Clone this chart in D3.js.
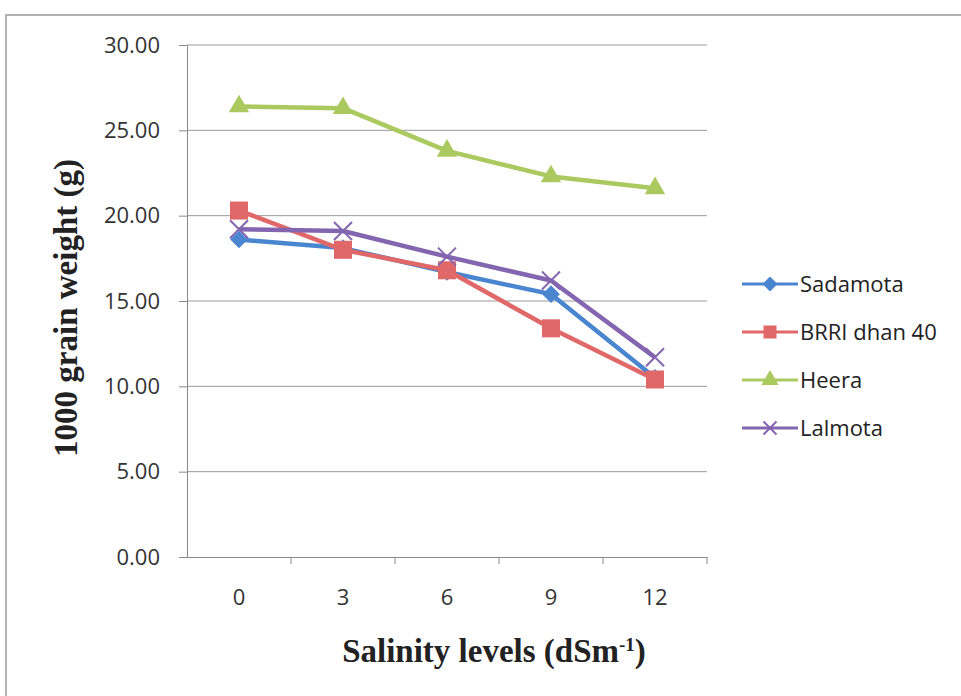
<!DOCTYPE html>
<html>
<head>
<meta charset="utf-8">
<script src="https://cdn.jsdelivr.net/npm/d3@7"></script>
<style>
  body { margin: 0; background: #fff; }
  .tick text { font-family: "Open Sans", sans-serif; font-size: 22px; fill: #333; }
  .axis-title { font-family: "Liberation Serif", serif; font-weight: bold; font-size: 33px; fill: #222; }
  .legend text { font-family: "Open Sans", sans-serif; font-size: 22px; fill: #222; }
</style>
</head>
<body>
<div id="chart"></div>
<script>
const levels = ['0', '3', '6', '9', '12'];
const yTicks = [0, 5, 10, 15, 20, 25, 30];

const sadamota = [18.6, 18.1, 16.7, 15.4, 10.5];
const brri = [20.3, 18.0, 16.8, 13.4, 10.4];
const heera = [26.4, 26.3, 23.8, 22.3, 21.6];
const lalmota = [19.2, 19.1, 17.6, 16.2, 11.7];

const seriesNames = ['Sadamota', 'BRRI dhan 40', 'Heera', 'Lalmota'];
const seriesColors = ['#4a86d0', '#e06868', '#aac95f', '#8466b0'];

const series = [sadamota, brri, heera, lalmota].map((vals, i) => ({
    name: seriesNames[i], color: seriesColors[i], values: vals, marker: i
}));

var width = 961, height = 696;
var margin = { top: 45, left: 187, right: 254, bottom: 139 };

var svg = d3.select('#chart').append('svg')
    .attr('width', width)
    .attr('height', height);

// outer frame
svg.append('path')
    .attr('d', 'M6,696 L6,15 L961,15')
    .attr('fill', 'none')
    .attr('stroke', '#999')
    .attr('stroke-width', 1.5);

var x = d3.scaleBand()
    .domain(levels)
    .range([margin.left, width - margin.right]);

var y = d3.scaleLinear()
    .domain([0, 30])
    .range([height - margin.bottom, margin.top]);

// gridlines
svg.append('g')
    .selectAll('line')
    .data(yTicks.filter(d => d > 0))
    .enter().append('line')
    .attr('x1', margin.left)
    .attr('x2', width - margin.right)
    .attr('y1', d => y(d))
    .attr('y2', d => y(d))
    .attr('stroke', '#999')
    .attr('stroke-width', 1);

// y axis
var yAxis = svg.append('g')
    .attr('transform', `translate(${margin.left},0)`)
    .call(d3.axisLeft(y).tickValues(yTicks).tickFormat(d3.format('.2f')).tickSize(8).tickPadding(19));
yAxis.select('.domain').attr('stroke', '#888');
yAxis.selectAll('.tick line').attr('stroke', '#888');

// x axis, ticks at category boundaries
var xAxis = svg.append('g')
    .attr('transform', `translate(0,${y(0)})`)
    .call(d3.axisBottom(x).tickSize(0).tickPadding(32));
xAxis.select('.domain').attr('stroke', '#888');
svg.append('g')
    .selectAll('line')
    .data(levels)
    .enter().append('line')
    .attr('x1', d => x(d) + x.bandwidth())
    .attr('x2', d => x(d) + x.bandwidth())
    .attr('y1', y(0))
    .attr('y2', y(0) + 7)
    .attr('stroke', '#888');

// axis titles
svg.append('text')
    .attr('class', 'axis-title')
    .attr('transform', `translate(77,${(y(0) + y(30)) / 2 + 7}) rotate(-90)`)
    .attr('text-anchor', 'middle')
    .text('1000 grain weight (g)');

var xt = svg.append('text')
    .attr('class', 'axis-title')
    .attr('x', 494)
    .attr('y', 662)
    .attr('text-anchor', 'middle');
xt.append('tspan').text('Salinity levels (dSm');
xt.append('tspan').attr('dy', -11).style('font-size', '19px').text('-1');
xt.append('tspan').attr('dy', 11).text(')');

function drawMarker(g, type, color, size) {
    if (type === 0) {
        g.append('path').attr('d', d3.symbol(d3.symbolDiamond2, size * 11)())
            .attr('fill', color);
    } else if (type === 1) {
        g.append('rect').attr('x', -size / 2).attr('y', -size / 2)
            .attr('width', size).attr('height', size).attr('fill', color);
    } else if (type === 2) {
        g.append('path').attr('d', d3.symbol(d3.symbolTriangle, size * 10)())
            .attr('fill', color);
    } else {
        var s = size / 2;
        g.append('path').attr('d', `M${-s},${-s}L${s},${s}M${-s},${s}L${s},${-s}`)
            .attr('stroke', color).attr('stroke-width', 2);
    }
}

var line = d3.line()
    .x((d, i) => x(levels[i]) + x.bandwidth() / 2)
    .y(d => y(d));

series.forEach(s => {
    svg.append('path')
        .datum(s.values)
        .attr('d', line)
        .attr('fill', 'none')
        .attr('stroke', s.color)
        .attr('stroke-width', 4.5)
        .attr('stroke-linejoin', 'round');
});

series.forEach(s => {
    s.values.forEach((v, i) => {
        var g = svg.append('g')
            .attr('transform', `translate(${x(levels[i]) + x.bandwidth() / 2},${y(v)})`);
        drawMarker(g, s.marker, s.color, 18);
    });
});

// legend
var legend = svg.append('g').attr('class', 'legend');
series.forEach((s, i) => {
    var ly = 284 + i * 48;
    var g = legend.append('g').attr('transform', `translate(0,${ly})`);
    g.append('line')
        .attr('x1', 742).attr('x2', 798)
        .attr('y1', 0).attr('y2', 0)
        .attr('stroke', s.color).attr('stroke-width', 3);
    var m = g.append('g').attr('transform', 'translate(770,0)');
    drawMarker(m, s.marker, s.color, 13);
    g.append('text')
        .attr('x', 800)
        .attr('y', 8)
        .text(s.name);
});
</script>
</body>
</html>
